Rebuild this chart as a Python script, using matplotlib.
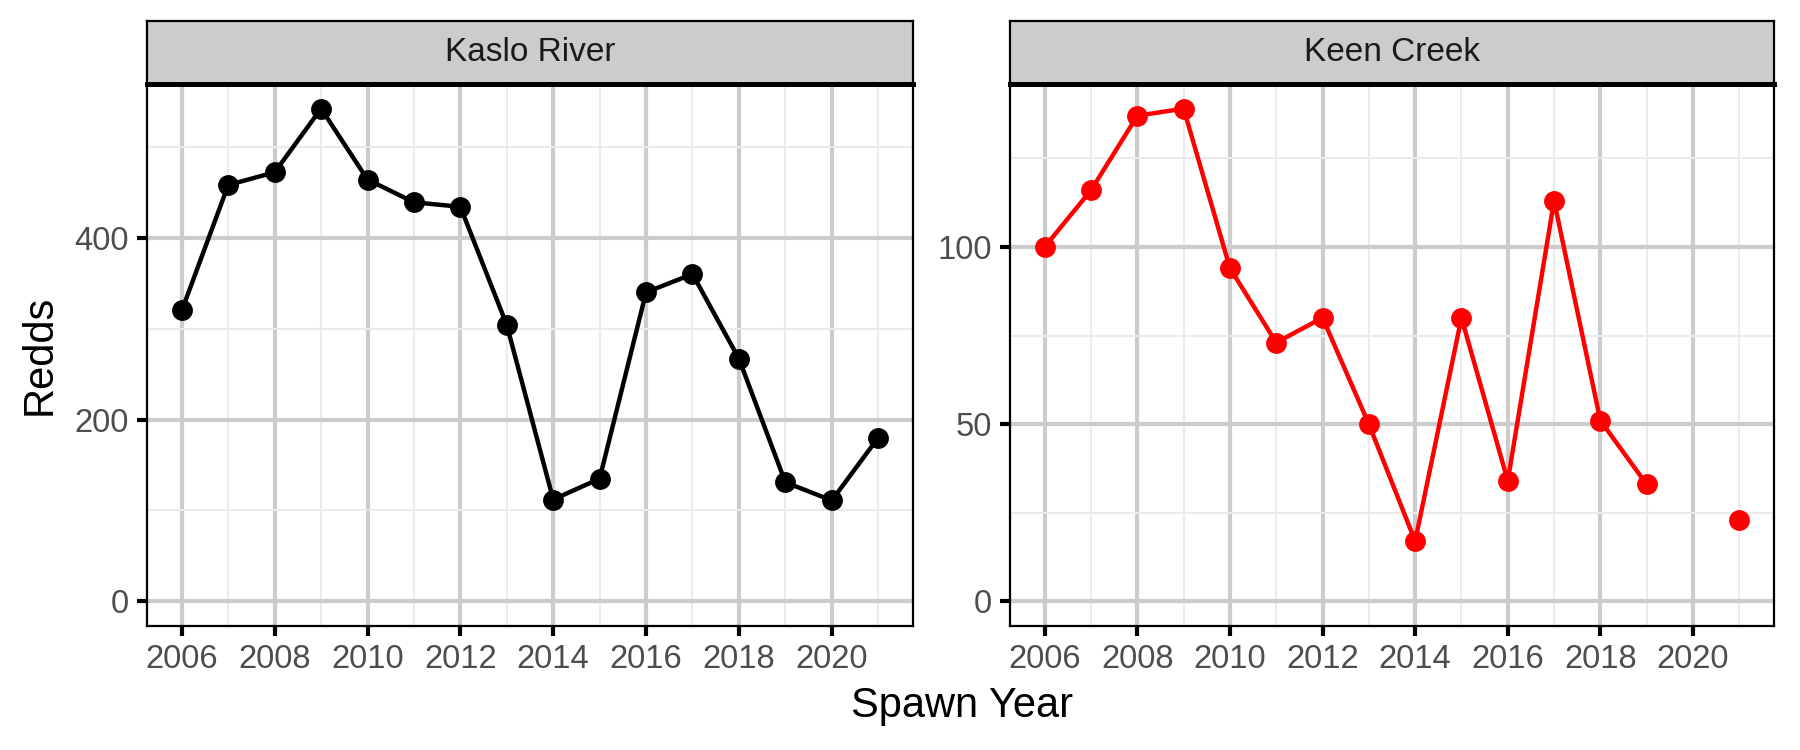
import numpy as np
import matplotlib
matplotlib.use("Agg")
import matplotlib.pyplot as plt
from matplotlib.ticker import MultipleLocator

plt.rcParams['font.family'] = ['Liberation Sans', 'DejaVu Sans']

years = np.arange(2006, 2022)
kaslo = [320, 458, 472, 542, 464, 439, 434, 304, 112, 135, 340, 360, 267, 131, 111, 180]
keen = [100, 116, 137, 139, 94, 73, 80, 50, 17, 80, 34, 113, 51, 33, np.nan, 23]
panels = ["Kaslo River", "Keen Creek"]
colors = ["black", "red"]
y_major = [200, 50]

fig = plt.figure(figsize=(9, 3.75), dpi=200)
W, H = 1800, 750

def rect(x0, y0, x1, y1):
    return [x0 / W, 1 - y1 / H, (x1 - x0) / W, (y1 - y0) / H]

panel_x = [(147, 913), (1010, 1774)]
series = [kaslo, keen]

for i in range(2):
    x0, x1 = panel_x[i]
    ax = fig.add_axes(rect(x0, 84, x1, 626))
    vals = np.array(series[i], dtype=float)
    vmax = np.nanmax(vals)
    lo, hi = 0, vmax
    pad = 0.05 * (hi - lo)
    ax.set_xticks(np.arange(2006, 2021, 2))
    ax.set_xticks(np.arange(2005, 2023, 1), minor=True)
    ax.yaxis.set_major_locator(MultipleLocator(y_major[i]))
    ax.yaxis.set_minor_locator(MultipleLocator(y_major[i] / 2))
    ax.set_ylim(lo - pad, hi + pad)
    ax.set_xlim(2006 - 0.75, 2021 + 0.75)
    ax.grid(which='major', color='#CCCCCC', linewidth=1.5)
    ax.grid(which='minor', color='#EBEBEB', linewidth=0.75)
    ax.set_axisbelow(True)
    ax.plot(years, vals, color=colors[i], linewidth=1.6, zorder=3)
    ax.plot(years, vals, 'o', color=colors[i], markersize=6.5, zorder=4)
    for s in ax.spines.values():
        s.set_color('black')
        s.set_linewidth(0.8)
    ax.tick_params(which='major', length=3.5, width=1.5, color='black',
                   labelsize=11.8, labelcolor='#4D4D4D', pad=3)
    ax.tick_params(which='minor', length=0)

    sax = fig.add_axes(rect(x0, 21, x1, 84))
    sax.set_facecolor('#CCCCCC')
    sax.set_xticks([])
    sax.set_yticks([])
    for s in sax.spines.values():
        s.set_color('black')
        s.set_linewidth(0.8)
    sax.spines['bottom'].set_linewidth(1.8)
    sax.text(0.5, 0.5, panels[i], transform=sax.transAxes, ha='center', va='center',
             fontsize=12, color='#1A1A1A')

fig.text(962 / W, 1 - 706 / H, "Spawn Year", ha='center', va='center', fontsize=15, color='black')
fig.text(40 / W, 1 - 355 / H, "Redds", ha='center', va='center', rotation=90, fontsize=15, color='black')

fig.savefig("out.png", dpi=200)
